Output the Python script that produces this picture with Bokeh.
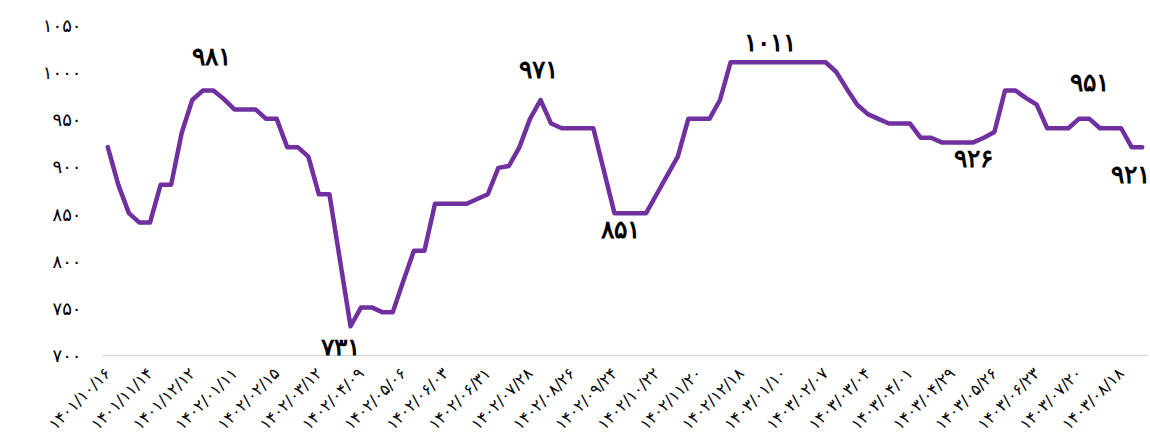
import math
from bokeh.plotting import figure
from bokeh.models import ColumnDataSource, FixedTicker, Range1d, LabelSet
from bokeh.embed import file_html
from bokeh.resources import INLINE

FA = str.maketrans("0123456789", "۰۱۲۳۴۵۶۷۸۹")

# weekly series (99 weeks), labelled every 4th week
values = [
    921, 881, 851, 841, 841, 881, 881, 936, 971, 981,
    981, 972, 961, 961, 961, 951, 951, 921, 921, 911,
    871, 871, 801, 731, 751, 751, 746, 746, 779, 811,
    811, 861, 861, 861, 861, 866, 871, 899, 901, 921,
    951, 971, 946, 941, 941, 941, 941, 896, 851, 851,
    851, 851, 871, 891, 911, 951, 951, 951, 971, 1011,
    1011, 1011, 1011, 1011, 1011, 1011, 1011, 1011, 1011, 1001,
    983, 966, 956, 951, 946, 946, 946, 931, 931, 926,
    926, 926, 926, 931, 937, 981, 981, 973, 966, 941,
    941, 941, 951, 951, 941, 941, 941, 921, 921,
]

tick_labels = [
    "۱۴۰۱/۱۰/۱۶", "۱۴۰۱/۱۱/۱۴", "۱۴۰۱/۱۲/۱۲", "۱۴۰۲/۰۱/۱۱", "۱۴۰۲/۰۲/۱۵",
    "۱۴۰۲/۰۳/۱۲", "۱۴۰۲/۰۴/۰۹", "۱۴۰۲/۰۵/۰۶", "۱۴۰۲/۰۶/۰۳", "۱۴۰۲/۰۶/۳۱",
    "۱۴۰۲/۰۷/۲۸", "۱۴۰۲/۰۸/۲۶", "۱۴۰۲/۰۹/۲۴", "۱۴۰۲/۱۰/۲۲", "۱۴۰۲/۱۱/۲۰",
    "۱۴۰۲/۱۲/۱۸", "۱۴۰۳/۰۱/۱۰", "۱۴۰۳/۰۲/۰۷", "۱۴۰۳/۰۳/۰۴", "۱۴۰۳/۰۴/۰۱",
    "۱۴۰۳/۰۴/۲۹", "۱۴۰۳/۰۵/۲۶", "۱۴۰۳/۰۶/۲۳", "۱۴۰۳/۰۷/۲۰", "۱۴۰۳/۰۸/۱۸",
]
label_step = 4

y_ticks = [700, 750, 800, 850, 900, 950, 1000, 1050]

# highlighted points (index into values)
ann_idx = [10, 23, 41, 48, 63, 82, 93, 97]
ann_dx = [-2, -10, -2, 6, -3, 0, 0, -1]
ann_dy = [34, -21, 30, -16, 20, -16, 36, -27]

x = list(range(len(values)))

p = figure(width=1150, height=444, output_backend="svg", toolbar_location=None,
           x_range=Range1d(-0.5, len(values) - 0.5), y_range=Range1d(y_ticks[0], y_ticks[-1]),
           min_border_left=102, min_border_right=3, min_border_top=25, min_border_bottom=89)
p.outline_line_color = None
p.background_fill_color = "white"
p.border_fill_color = "white"
p.xgrid.grid_line_color = None
p.ygrid.grid_line_color = None

p.line(x, values, line_color="#7030A0", line_width=4.5, line_join="round", line_cap="round")

src = ColumnDataSource(dict(
    x=[x[i] for i in ann_idx],
    y=[values[i] for i in ann_idx],
    t=[str(values[i]).translate(FA) for i in ann_idx],
    dx=ann_dx, dy=ann_dy,
))
labels = LabelSet(x="x", y="y", text="t", source=src, x_offset="dx", y_offset="dy",
                  text_align="center", text_baseline="middle", text_font="DejaVu Sans",
                  text_font_style="bold", text_font_size="25px", text_color="#000000")
p.add_layout(labels)

# y axis
p.yaxis.ticker = FixedTicker(ticks=y_ticks)
p.yaxis.major_label_overrides = {v: str(v).translate(FA) for v in y_ticks}
p.yaxis.axis_line_color = None
p.yaxis.major_tick_line_color = None
p.yaxis.minor_tick_line_color = None
p.yaxis.major_tick_out = 0
p.yaxis.major_tick_in = 0
p.yaxis.major_label_standoff = 21
p.yaxis.major_label_text_font = "DejaVu Sans"
p.yaxis.major_label_text_font_size = "18px"
p.yaxis.major_label_text_color = "#000000"

# x axis
xt = [i * label_step for i in range(len(tick_labels))]
p.xaxis.ticker = FixedTicker(ticks=xt)
p.xaxis.major_label_overrides = {t: lab for t, lab in zip(xt, tick_labels)}
p.xaxis.major_label_orientation = math.pi / 4
p.xaxis.axis_line_color = "#d9d9d9"
p.xaxis.axis_line_width = 1.5
p.xaxis.major_tick_line_color = None
p.xaxis.minor_tick_line_color = None
p.xaxis.major_tick_out = 0
p.xaxis.major_tick_in = 0
p.xaxis.major_label_standoff = 15
p.xaxis.major_label_text_line_height = 1.0
p.xaxis.major_label_text_font = "DejaVu Sans"
p.xaxis.major_label_text_font_size = "16px"
p.xaxis.major_label_text_color = "#000000"

open("out.html", "w").write(file_html(p, INLINE))
